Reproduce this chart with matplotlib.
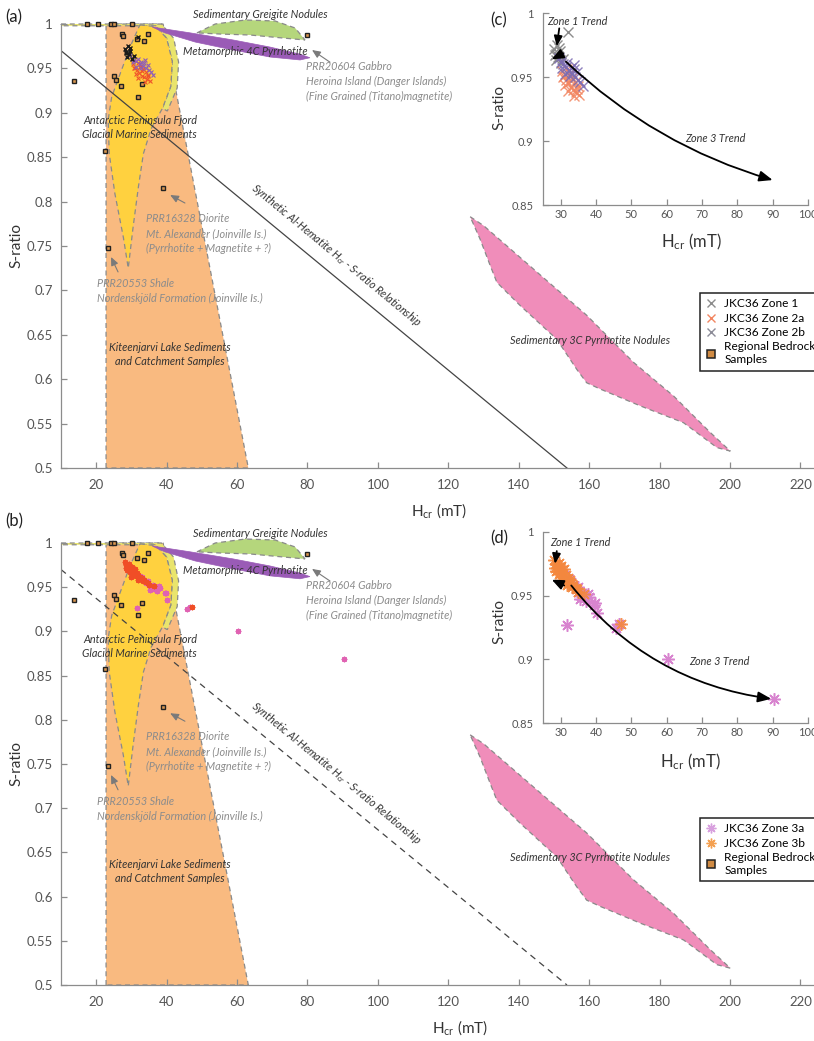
import matplotlib
matplotlib.use('Agg')
import matplotlib.pyplot as plt
from matplotlib.patches import Polygon
from matplotlib.lines import Line2D
from matplotlib.ticker import FuncFormatter

plt.rcParams['font.family'] = ['Lato', 'DejaVu Sans']
plt.rcParams['mathtext.fontset'] = 'custom'
plt.rcParams['mathtext.rm'] = 'Lato'
plt.rcParams['mathtext.it'] = 'Lato:italic'

# ---------------- data ----------------
# regional bedrock samples (Hcr in mT, S-ratio)
bedrock_hcr = [17.3, 20.4, 24.2, 25.1, 30.1, 27.2, 27.7, 31.5, 33.6, 34.6,
               13.7, 25.1, 25.6, 27.0, 32.9, 31.9, 22.6, 38.9, 23.4, 79.9]
bedrock_s = [1.0, 1.0, 1.0, 1.0, 1.0, 0.989, 0.986, 0.983, 0.981, 0.989,
             0.936, 0.941, 0.937, 0.930, 0.932, 0.918, 0.857, 0.815, 0.748, 0.988]

# JKC36 core, zones 1 / 2a / 2b
zone1_hcr = [28.2, 28.6, 29.0, 29.3, 28.8, 29.7, 30.1, 32.0, 28.4, 29.5, 30.6]
zone1_s = [0.972, 0.968, 0.975, 0.966, 0.963, 0.970, 0.961, 0.985, 0.967, 0.973, 0.964]
zone2a_hcr = [30.4, 31.0, 31.5, 31.8, 32.2, 32.5, 32.9, 33.3, 33.6, 34.0,
              34.4, 34.8, 35.2, 31.3, 32.0, 33.0, 33.8, 34.6, 30.8, 32.7]
zone2a_s = [0.955, 0.951, 0.948, 0.956, 0.945, 0.952, 0.942, 0.949, 0.940, 0.946,
            0.938, 0.943, 0.936, 0.944, 0.939, 0.947, 0.935, 0.941, 0.950, 0.953]
zone2b_hcr = [29.5, 30.2, 30.8, 31.4, 31.9, 32.3, 32.8, 33.2, 33.7, 34.1,
              34.6, 35.0, 35.5, 36.2, 30.5, 31.2, 32.6, 33.9]
zone2b_s = [0.965, 0.962, 0.960, 0.958, 0.961, 0.955, 0.957, 0.953, 0.956, 0.950,
            0.954, 0.948, 0.946, 0.943, 0.957, 0.952, 0.951, 0.959]

# JKC36 core, zones 3a / 3b
zone3a_hcr = [31.7, 45.8, 40.2, 39.4, 60.4, 90.5, 33.5, 34.2, 35.0, 35.8, 36.5, 37.2,
              34.8, 33.0, 32.4, 36.0, 38.0, 31.0, 30.2, 29.5, 35.4, 37.8, 39.8, 46.5]
zone3a_s = [0.927, 0.925, 0.936, 0.943, 0.900, 0.869, 0.958, 0.955, 0.953, 0.950, 0.948, 0.946,
            0.957, 0.961, 0.963, 0.952, 0.949, 0.966, 0.969, 0.972, 0.947, 0.951, 0.944, 0.928]
zone3b_hcr = [28.2, 28.6, 29.0, 29.4, 29.8, 30.2, 30.6, 31.0, 31.5, 32.0, 32.5, 33.0, 33.6, 34.2,
              35.0, 28.8, 29.6, 30.4, 31.2, 32.2, 33.2, 34.6, 36.5, 47.2, 28.4, 30.0, 31.8]
zone3b_s = [0.978, 0.975, 0.972, 0.976, 0.970, 0.973, 0.968, 0.971, 0.966, 0.964, 0.962, 0.960, 0.958, 0.956,
            0.953, 0.969, 0.967, 0.965, 0.963, 0.960, 0.957, 0.955, 0.951, 0.928, 0.972, 0.962, 0.958]

# synthetic Al-hematite Hcr / S-ratio relationship
hematite_hcr = [10.0, 153.7]
hematite_s = [0.970, 0.500]

# literature fields (Hcr, S-ratio outlines)
kiteenjarvi = [(22.8, 0.5), (22.8, 1.0), (39.0, 1.0), (63.2, 0.5)]
fjord_rim = [(10.0, 1.0), (38.5, 1.0), (42.0, 0.984), (43.4, 0.957), (43.0, 0.928), (40.2, 0.902),
             (38.8, 0.905), (41.2, 0.930), (41.6, 0.958), (40.0, 0.984), (37.0, 0.998), (10.0, 0.998)]
fjord = [(32.4, 0.999), (37.0, 0.997), (40.0, 0.984), (41.6, 0.958), (41.2, 0.930), (38.8, 0.905),
         (35.6, 0.882), (33.4, 0.854), (32.0, 0.817), (30.5, 0.772), (29.1, 0.725), (27.7, 0.760),
         (25.3, 0.809), (23.7, 0.854), (23.4, 0.892), (24.4, 0.918), (26.8, 0.944), (29.6, 0.974)]
greigite = [(48.6, 0.990), (53.8, 1.000), (62.3, 1.0045), (70.8, 1.0034), (76.5, 0.9955),
            (79.3, 0.982), (73.6, 0.984), (63.7, 0.9876), (55.2, 0.9887)]
pyrrhotite_4c = [(35.9, 0.9966), (46.7, 0.990), (58.9, 0.982), (69.4, 0.974), (77.9, 0.966),
                 (80.7, 0.962), (77.9, 0.9595), (69.4, 0.9628), (58.9, 0.9707), (48.1, 0.9797),
                 (39.5, 0.990)]
pyrrhotite_3c = [(126.2, 0.783), (130.0, 0.773), (144.2, 0.724), (159.3, 0.672), (172.6, 0.619),
                 (184.0, 0.581), (194.4, 0.540), (200.1, 0.519), (196.3, 0.523), (186.8, 0.551),
                 (174.5, 0.570), (163.1, 0.589), (159.3, 0.596), (156.5, 0.611), (150.8, 0.645),
                 (140.4, 0.683), (133.8, 0.709), (131.9, 0.728), (129.0, 0.758)]

# trend arrows for the zoomed panels (start, end)
zone1_trend_c = [(29.6, 0.988), (28.9, 0.974)]
zone1_back_c = [(30.7, 0.9685), (27.5, 0.9638)]
zone3_trend_c = [(31.5, 0.962), (90.0, 0.8695)]
zone1_trend_d = [(28.9, 0.985), (28.4, 0.975)]
zone1_back_d = [(31.0, 0.958), (27.5, 0.9625)]
zone3_trend_d = [(33.0, 0.958), (89.6, 0.869)]

ORANGE = '#F9BA80'
YELLOW = '#FFD13F'
RIM = '#E9E46C'
GREEN = '#B5D67C'
PURPLE = '#9A5BB6'
PINK = '#F08DBA'
EDGE = '#8a8a8a'
DARK = '#333333'
GREY_TXT = '#8c8c8c'

W, H = 814, 1041


def box(l, t, r, b):
    return [l / W, 1 - b / H, (r - l) / W, (b - t) / H]


fmt = FuncFormatter(lambda v, p: f'{v:g}')


def style_axes(ax, labelsize, xpad, ypad):
    for s in ['top', 'right']:
        ax.spines[s].set_visible(False)
    for s in ['left', 'bottom']:
        ax.spines[s].set_color('#8c8c8c')
        ax.spines[s].set_linewidth(0.9)
    ax.tick_params(direction='in', length=4, width=0.9, color='#8c8c8c',
                   labelcolor='#555555', labelsize=labelsize)
    ax.tick_params(axis='x', pad=xpad)
    ax.tick_params(axis='y', pad=ypad)
    ax.xaxis.set_major_formatter(fmt)
    ax.yaxis.set_major_formatter(fmt)


def draw_main(ax, line_style):
    dash = (0, (4, 3))
    ax.add_patch(Polygon(kiteenjarvi, closed=True, fc=ORANGE, ec=EDGE, ls=dash, lw=0.9, clip_on=False, zorder=1))
    ax.add_patch(Polygon(fjord_rim, closed=True, fc=RIM, ec=EDGE, ls=dash, lw=0.9, clip_on=False, zorder=1.1))
    ax.add_patch(Polygon(fjord, closed=True, fc=YELLOW, ec=EDGE, ls=dash, lw=0.9, clip_on=False, zorder=1.2))
    ax.add_patch(Polygon(greigite, closed=True, fc=GREEN, ec=EDGE, ls=dash, lw=0.9, clip_on=False, zorder=1.3))
    ax.add_patch(Polygon(pyrrhotite_4c, closed=True, fc=PURPLE, ec=PURPLE, lw=0.5, clip_on=False, zorder=1.4))
    ax.add_patch(Polygon(pyrrhotite_3c, closed=True, fc=PINK, ec=EDGE, ls=dash, lw=0.9, clip_on=False, zorder=1.3))

    ax.plot(hematite_hcr, hematite_s, color='#444444', lw=0.9, ls=line_style, zorder=2)

    ax.plot(bedrock_hcr, bedrock_s, ls='none', marker='s', ms=3.0, mfc='#D9964F', mec='#222222',
            mew=1.0, clip_on=False, zorder=4)

    ax.set_xlim(10, 225)
    ax.set_ylim(0.5, 1.0)
    ax.set_xticks(range(20, 221, 20))
    ax.set_yticks([0.5, 0.55, 0.6, 0.65, 0.7, 0.75, 0.8, 0.85, 0.9, 0.95, 1.0])
    style_axes(ax, 9.5, 8, 6)
    ax.set_ylabel('S-ratio', fontsize=11, color='#333333')
    ax.yaxis.set_label_coords(-0.049, 0.5)
    ax.set_xlabel(r'H$_{\mathregular{cr}}$ (mT)', fontsize=11, color='#333333')

    it = dict(style='italic', fontsize=7.8, color=DARK)
    gr = dict(style='italic', fontsize=7.8, color=GREY_TXT, linespacing=1.45)
    ax.text(66.5, 1.011, 'Sedimentary Greigite Nodules', ha='center', va='center', **it)
    ax.text(62.3, 0.9685, 'Metamorphic 4C Pyrrhotite', ha='center', va='center', **it)
    ax.text(79.6, 0.958, 'PRR20604 Gabbro\nHeroina Island (Danger Islands)\n(Fine Grained (Titano)magnetite)',
            ha='left', va='top', **gr)
    ax.text(32.4, 0.883, 'Antarctic Peninsula Fjord\nGlacial Marine Sediments', ha='center', va='center',
            linespacing=1.35, **it)
    ax.text(34.1, 0.787, 'PRR16328 Diorite\nMt. Alexander (Joinville Is.)\n(Pyrrhotite + Magnetite + ?)',
            ha='left', va='top', **gr)
    ax.text(20.2, 0.714, 'PRR20553 Shale\nNordenskjöld Formation (Joinville Is.)', ha='left', va='top', **gr)
    ax.text(41.0, 0.628, 'Kiteenjarvi Lake Sediments\nand Catchment Samples', ha='center', va='center',
            linespacing=1.35, **it)
    ax.text(160.3, 0.644, 'Sedimentary 3C Pyrrhotite Nodules', ha='center', va='center', **it)
    ax.text(88.1, 0.740, r'Synthetic Al-Hematite H$_{\mathregular{cr}}$ - S-ratio Relationship',
            ha='center', va='center', rotation=-39.6, rotation_mode='anchor', **it)

    arr = dict(arrowstyle='-|>,head_length=0.5,head_width=0.22', color='#7a7a7a', lw=0.8,
               shrinkA=0, shrinkB=0)
    ax.annotate('', xy=(81.3, 0.9707), xytext=(86.4, 0.957), arrowprops=arr)
    ax.annotate('', xy=(41.0, 0.8074), xytext=(45.2, 0.7984), arrowprops=arr)
    ax.annotate('', xy=(24.2, 0.7376), xytext=(26.2, 0.7208), arrowprops=arr)


def draw_trends(ax, z1, z1b, z3, rad):
    head = dict(color='black', lw=1.3, shrinkA=0, shrinkB=0)
    ax.annotate('', xy=z1[1], xytext=z1[0],
                arrowprops=dict(arrowstyle='-|>,head_length=0.6,head_width=0.25', **head))
    ax.annotate('', xy=z1b[1], xytext=z1b[0],
                arrowprops=dict(arrowstyle='-|>,head_length=0.7,head_width=0.3', **head))
    ax.annotate('', xy=z3[1], xytext=z3[0],
                arrowprops=dict(arrowstyle='-|>,head_length=0.8,head_width=0.32',
                                connectionstyle=f'arc3,rad={rad}', **head))


def style_inset(ax):
    ax.set_xlim(25, 100)
    ax.set_ylim(0.85, 1.0)
    ax.set_xticks(range(30, 101, 10))
    ax.set_yticks([0.85, 0.9, 0.95, 1.0])
    ax.patch.set_alpha(0)
    style_axes(ax, 8, 3, 7)
    ax.set_ylabel('S-ratio', fontsize=11, color='#333333')
    ax.set_xlabel(r'H$_{\mathregular{cr}}$ (mT)', fontsize=12, color='#333333')


fig = plt.figure(figsize=(W / 100, H / 100), dpi=100)

# ---- (a) zones 1 / 2 against published fields ----
ax_a = fig.add_axes(box(61, 24, 818, 468))
draw_main(ax_a, '-')
ax_a.xaxis.set_label_coords(0.5, -33 / 444)
ax_a.xaxis.label.set_va('top')
ax_a.plot(zone2a_hcr, zone2a_s, ls='none', marker='x', ms=3, mew=0.8, color='#F0542A', zorder=5)
ax_a.plot(zone2b_hcr, zone2b_s, ls='none', marker='x', ms=3, mew=0.8, color='#8F5DB8', zorder=5)
ax_a.plot(zone1_hcr, zone1_s, ls='none', marker='x', ms=3, mew=1.0, color='#1a1a1a', zorder=5)

# ---- (b) zone 3 against published fields ----
ax_b = fig.add_axes(box(61, 543, 818, 985))
draw_main(ax_b, (0, (5, 4)))
ax_b.xaxis.set_label_coords(0.527, -33 / 442)
ax_b.xaxis.label.set_va('top')
ax_b.plot(zone3a_hcr, zone3a_s, ls='none', marker=(8, 2, 0), ms=4, mew=0.9, color='#E062B2', zorder=5)
ax_b.plot(zone3b_hcr, zone3b_s, ls='none', marker=(8, 2, 0), ms=4, mew=0.9, color='#F04E26', zorder=5)

# ---- (c) zoom on zones 1 / 2 ----
ax_c = fig.add_axes(box(543, 13, 808, 205))
ax_c.plot(zone1_hcr, zone1_s, ls='none', marker='x', ms=7, mew=1.0, color='#8c8c8c', zorder=3)
ax_c.plot(zone2a_hcr, zone2a_s, ls='none', marker='x', ms=7, mew=1.0, color='#F28560', alpha=0.85, zorder=3)
ax_c.plot(zone2b_hcr, zone2b_s, ls='none', marker='x', ms=7, mew=1.0, color='#7C6CB2', alpha=0.85, zorder=3)
draw_trends(ax_c, zone1_trend_c, zone1_back_c, zone3_trend_c, 0.12)
style_inset(ax_c)
ax_c.yaxis.set_label_coords(-0.136, 0.51)
ax_c.xaxis.set_label_coords(0.562, -27 / 192)
ax_c.xaxis.label.set_va('top')
ax_c.text(26.1, 0.993, 'Zone 1 Trend', style='italic', fontsize=7.8, color=DARK, ha='left', va='center')
ax_c.text(73.9, 0.9023, 'Zone 3 Trend', style='italic', fontsize=7.8, color=DARK, ha='center', va='center')

# ---- (d) zoom on zone 3 ----
ax_d = fig.add_axes(box(543, 532, 808, 723))
ax_d.plot(zone3a_hcr, zone3a_s, ls='none', marker=(8, 2, 0), ms=9, mew=1.1, color='#D884CF', zorder=3)
ax_d.plot(zone3b_hcr, zone3b_s, ls='none', marker=(8, 2, 0), ms=9, mew=1.1, color='#F4883E', alpha=0.9, zorder=3)
draw_trends(ax_d, zone1_trend_d, zone1_back_d, zone3_trend_d, 0.2)
style_inset(ax_d)
ax_d.yaxis.set_label_coords(-0.136, 0.534)
ax_d.xaxis.set_label_coords(0.555, -29 / 191)
ax_d.xaxis.label.set_va('top')
ax_d.text(27.0, 0.992, 'Zone 1 Trend', style='italic', fontsize=7.8, color=DARK, ha='left', va='center')
ax_d.text(75.0, 0.898, 'Zone 3 Trend', style='italic', fontsize=7.8, color=DARK, ha='center', va='center')

# ---- legends ----
bedrock_handle = Line2D([], [], ls='none', marker='s', ms=6, mfc='#D08B44', mec='#222222', mew=1.1)
leg_a = [Line2D([], [], ls='none', marker='x', ms=6, mew=1, color='#8c8c8c'),
         Line2D([], [], ls='none', marker='x', ms=6, mew=1, color='#F28560'),
         Line2D([], [], ls='none', marker='x', ms=6, mew=1, color='#8c8c98'),
         bedrock_handle]
leg_b = [Line2D([], [], ls='none', marker=(8, 2, 0), ms=7, mew=1, color='#D8A0DE'),
         Line2D([], [], ls='none', marker=(8, 2, 0), ms=7, mew=1, color='#F4A050'),
         bedrock_handle]
legend_kw = dict(loc='upper left', fontsize=8.6, frameon=True, fancybox=False, edgecolor='#222222',
                 framealpha=1, borderpad=0.45, handlelength=0.9, handletextpad=0.7,
                 labelspacing=0.28, borderaxespad=0)
la = fig.legend(leg_a, ['JKC36 Zone 1', 'JKC36 Zone 2a', 'JKC36 Zone 2b', 'Regional Bedrock\nSamples'],
                bbox_to_anchor=(700 / W, 1 - 293 / H), **legend_kw)
lb = fig.legend(leg_b, ['JKC36 Zone 3a', 'JKC36 Zone 3b', 'Regional Bedrock\nSamples'],
                bbox_to_anchor=(700 / W, 1 - 818 / H), **legend_kw)
for lg in (la, lb):
    lg.get_frame().set_linewidth(1.1)

# panel letters
for lbl, x, y in [('(a)', 5, 17), ('(b)', 5, 521), ('(c)', 490, 20), ('(d)', 490, 538)]:
    fig.text(x / W, 1 - y / H, lbl, fontsize=12, color='#222222', ha='left', va='center')

fig.savefig('out.png', dpi=100)
